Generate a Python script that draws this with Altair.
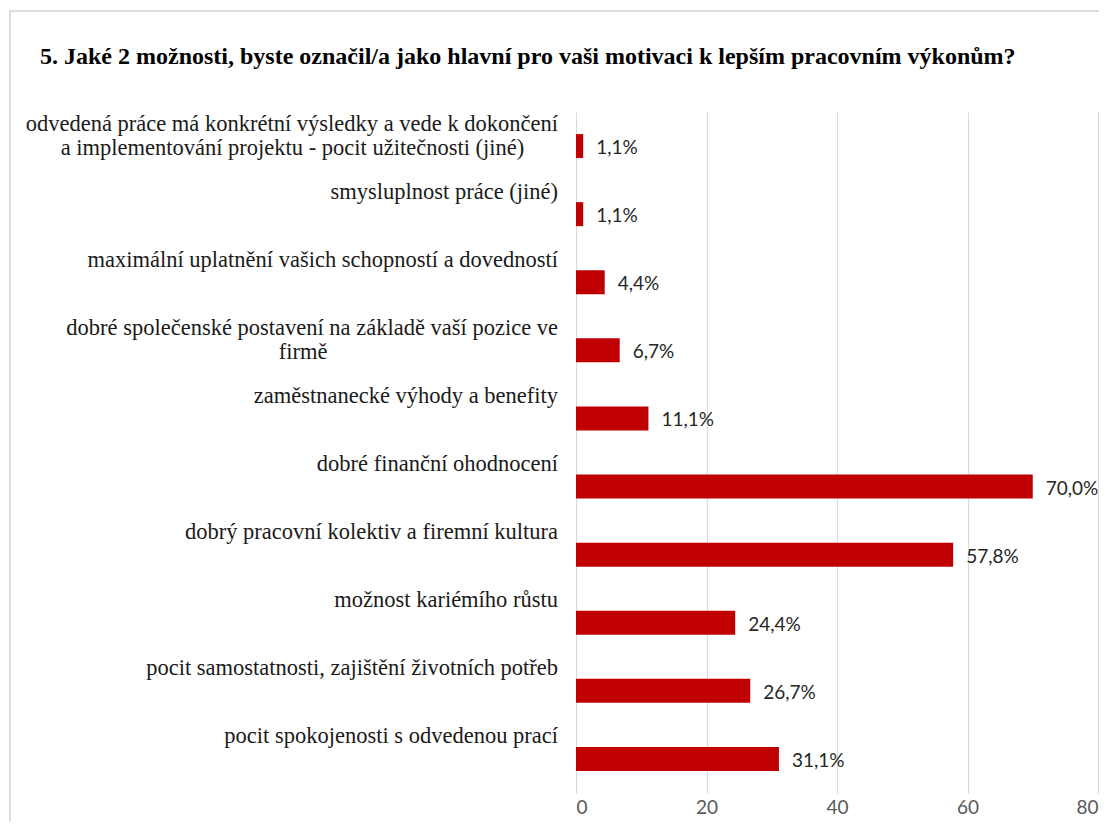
import altair as alt
import pandas as pd

NB = "\u00a0"
ZW = "\u200b"
SERIF = "Liberation Serif"

categories = [
    "odvedená práce má konkrétní výsledky a vede k dokončení\na implementování projektu - pocit užitečnosti (jiné)" + NB * 6 + ZW,
    "smysluplnost práce (jiné)",
    "maximální uplatnění vašich schopností a dovedností",
    "dobré společenské postavení na základě vaší pozice ve\nfirmě" + NB * 41 + ZW,
    "zaměstnanecké výhody a benefity",
    "dobré finanční ohodnocení",
    "dobrý pracovní kolektiv a firemní kultura",
    "možnost kariémího růstu",
    "pocit samostatnosti, zajištění životních potřeb",
    "pocit spokojenosti s odvedenou prací",
]
values = [1.1, 1.1, 4.4, 6.7, 11.1, 70.0, 57.8, 24.4, 26.7, 31.1]
x_ticks = [0, 20, 40, 60, 80]
title_text = "5. Jaké 2 možnosti, byste označil/a jako hlavní pro vaši motivaci k lepším pracovním výkonům?"

df = pd.DataFrame({
    "cat": categories,
    "val": values,
    "lbl": [f"{v:.1f}".replace(".", ",") + "%" for v in values],
})

W = 522
H = 681

y_enc = alt.Y("cat:N", sort=categories, axis=None,
              scale=alt.Scale(paddingInner=0, paddingOuter=0))

base = alt.Chart(df)

bars = base.mark_bar(color="#C00000", size=24).encode(
    y=y_enc,
    x=alt.X("val:Q", scale=alt.Scale(domain=[0, 80], nice=False),
            axis=alt.Axis(values=x_ticks, grid=True, gridColor="#d9d9d9", gridWidth=1.2,
                          domain=False, ticks=False, title=None,
                          labelFont="Lato", labelFontSize=19, labelColor="#595959",
                          labelPadding=5)),
)

vals = base.mark_text(align="left", baseline="middle", dx=13, dy=2,
                      font="Lato", fontSize=19, color="#262626").encode(
    y=y_enc, x="val:Q", text="lbl:N")

cats = base.mark_text(align="right", baseline="top", dy=-33.5, lineBreak="\n",
                      lineHeight=24, font=SERIF, fontSize=22.5,
                      color="#1a1a1a").encode(
    y=y_enc, x=alt.value(-18), text="cat:N")

tdf = pd.DataFrame({"t": [title_text]})
title = alt.Chart(tdf).mark_text(align="left", baseline="middle",
                                 font=SERIF, fontSize=24,
                                 fontWeight="bold", color="#000000").encode(
    text="t:N", x=alt.value(-536), y=alt.value(-55))

border = alt.Chart(tdf).mark_rect(fill="white", fillOpacity=0, stroke="#d4d4d4",
                                  strokeWidth=1.5).encode(
    x=alt.value(-566), x2=alt.value(700), y=alt.value(-101), y2=alt.value(900))

chart = alt.layer(border, bars, vals, cats, title).properties(
    width=W, height=H,
    autosize=alt.AutoSizeParams(type="none"),
    padding={"left": 568, "right": 1, "top": 104, "bottom": 29},
).configure(background="white", font=SERIF, view={"stroke": None})

chart.save("out.html", embed_options={"renderer": "svg", "actions": False})
